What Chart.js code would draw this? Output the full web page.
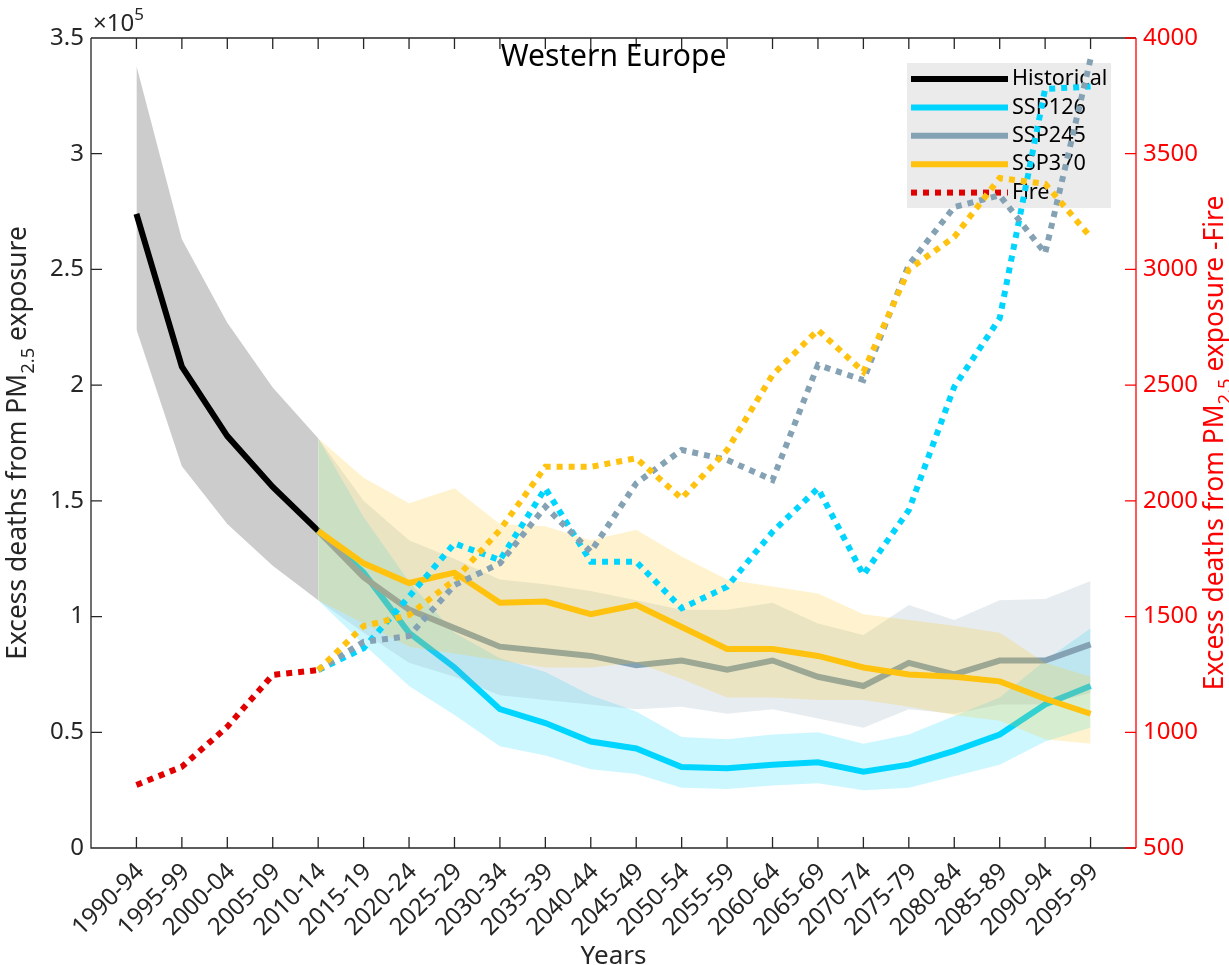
<!DOCTYPE html>
<html>
<head>
<meta charset="utf-8">
<script src="https://cdn.jsdelivr.net/npm/chart.js@4.4.1/dist/chart.umd.min.js"></script>
<style>
  html, body { margin: 0; padding: 0; background: #fff; }
  #wrap { width: 1229px; height: 965px; }
</style>
</head>
<body>
<div id="wrap"><canvas id="myChart" width="1229" height="965"></canvas></div>
<script>
// five-year periods on the x axis
const periods = ['1990-94', '1995-99', '2000-04', '2005-09', '2010-14', '2015-19', '2020-24', '2025-29',
  '2030-34', '2035-39', '2040-44', '2045-49', '2050-54', '2055-59', '2060-64', '2065-69', '2070-74',
  '2075-79', '2080-84', '2085-89', '2090-94', '2095-99'];

// left axis, excess deaths in units of 1e5 (historical: 1990-94 .. 2010-14)
const historical = [2.74, 2.08, 1.78, 1.56, 1.37];
const histUpper = [3.38, 2.63, 2.27, 1.99, 1.77];
const histLower = [2.24, 1.65, 1.40, 1.22, 1.07];

// projections start at 2010-14
const projStart = 4;
const ssp126 = [1.37, 1.19, 0.93, 0.78, 0.60, 0.54, 0.46, 0.43, 0.35, 0.345, 0.36, 0.37, 0.33, 0.36, 0.42, 0.49, 0.62, 0.70];
const ssp126Upper = [1.77, 1.43, 1.15, 0.93, 0.82, 0.76, 0.66, 0.59, 0.48, 0.47, 0.49, 0.50, 0.45, 0.49, 0.57, 0.65, 0.81, 0.95];
const ssp126Lower = [1.07, 0.88, 0.70, 0.575, 0.44, 0.40, 0.34, 0.32, 0.26, 0.255, 0.27, 0.28, 0.25, 0.26, 0.31, 0.36, 0.46, 0.52];

const ssp245 = [1.37, 1.17, 1.03, 0.95, 0.87, 0.85, 0.83, 0.79, 0.81, 0.77, 0.81, 0.74, 0.70, 0.80, 0.75, 0.81, 0.81, 0.88];
const ssp245Upper = [1.77, 1.50, 1.33, 1.25, 1.16, 1.14, 1.11, 1.07, 1.03, 1.03, 1.06, 0.97, 0.92, 1.05, 0.985, 1.07, 1.076, 1.154];
const ssp245Lower = [1.07, 0.93, 0.80, 0.74, 0.66, 0.64, 0.62, 0.60, 0.61, 0.58, 0.60, 0.56, 0.52, 0.60, 0.58, 0.62, 0.62, 0.67];

const ssp370 = [1.37, 1.23, 1.145, 1.19, 1.06, 1.065, 1.01, 1.05, 0.955, 0.86, 0.86, 0.83, 0.78, 0.75, 0.74, 0.72, 0.645, 0.58];
const ssp370Upper = [1.77, 1.60, 1.49, 1.555, 1.40, 1.39, 1.33, 1.375, 1.26, 1.16, 1.13, 1.10, 1.01, 0.985, 0.96, 0.93, 0.80, 0.74];
const ssp370Lower = [1.07, 0.97, 0.87, 0.84, 0.81, 0.78, 0.78, 0.80, 0.73, 0.65, 0.65, 0.64, 0.64, 0.61, 0.575, 0.55, 0.47, 0.45];

// right axis, fire-related excess deaths
const fireHist = [772, 851, 1024, 1248, 1269];
const fire126 = [1269, 1363, 1586, 1816, 1744, 2054, 1737, 1737, 1536, 1629, 1866, 2054, 1680, 1960, 2493, 2789, 3780, 3790];
const fire245 = [1269, 1391, 1416, 1636, 1730, 1975, 1780, 2076, 2220, 2177, 2090, 2587, 2522, 3020, 3270, 3320, 3070, 3910];
const fire370 = [1269, 1459, 1507, 1658, 1874, 2147, 2147, 2184, 2011, 2220, 2544, 2738, 2558, 3000, 3140, 3395, 3370, 3140];

const FONT = '"Noto Sans", "Open Sans", sans-serif';
const INK = '#262626';
const BLACK = '#000000';
const CYAN = '#00d5ff';
const GREY = '#84a2b4';
const YELLOW = '#ffc20e';
const RED = '#e00000';

function pts(values, start) {
  return values.map((v, i) => ({ x: start + i + 1, y: v }));
}
function alpha(hex, a) {
  const n = parseInt(hex.slice(1), 16);
  return `rgba(${n >> 16}, ${(n >> 8) & 255}, ${n & 255}, ${a})`;
}

// pushed bottom to top, order fixed below
const datasets = [];
function band(lo, hi, start, color) {
  datasets.push({ data: pts(lo, start), borderWidth: 0, borderColor: 'rgba(0,0,0,0)', fill: false, yAxisID: 'y' });
  datasets.push({ data: pts(hi, start), borderWidth: 0, borderColor: 'rgba(0,0,0,0)', fill: '-1',
    backgroundColor: alpha(color, 0.2), yAxisID: 'y' });
}
function line(values, start, color, axis, dotted) {
  datasets.push({ data: pts(values, start), borderColor: color, borderWidth: 6, fill: false, yAxisID: axis,
    borderDash: dotted ? [6, 6] : [], borderCapStyle: 'butt', borderJoinStyle: 'miter' });
}

band(histLower, histUpper, 0, BLACK);
line(historical, 0, BLACK, 'y');
band(ssp126Lower, ssp126Upper, projStart, CYAN);
line(ssp126, projStart, CYAN, 'y');
band(ssp245Lower, ssp245Upper, projStart, GREY);
line(ssp245, projStart, GREY, 'y');
band(ssp370Lower, ssp370Upper, projStart, YELLOW);
line(ssp370, projStart, YELLOW, 'y');
line(fireHist, 0, RED, 'y2', true);
line(fire126, projStart, CYAN, 'y2', true);
line(fire245, projStart, GREY, 'y2', true);
line(fire370, projStart, YELLOW, 'y2', true);
datasets.forEach((d, k) => { d.order = datasets.length - k; });

const legendItems = [
  { label: 'Historical', color: BLACK },
  { label: 'SSP126', color: CYAN },
  { label: 'SSP245', color: GREY },
  { label: 'SSP370', color: YELLOW },
  { label: 'Fire', color: RED, dotted: true }
];

function vlabel(ctx, x, y, parts, size, color) {
  ctx.save();
  ctx.translate(x, y);
  ctx.rotate(-Math.PI / 2);
  ctx.fillStyle = color;
  ctx.textAlign = 'left';
  ctx.textBaseline = 'alphabetic';
  const widths = parts.map(p => {
    ctx.font = `${p.sub ? size * 0.7 : size}px ${FONT}`;
    return ctx.measureText(p.t).width;
  });
  let cx = -widths.reduce((s, w) => s + w, 0) / 2;
  parts.forEach((p, i) => {
    ctx.font = `${p.sub ? size * 0.7 : size}px ${FONT}`;
    ctx.fillText(p.t, cx, p.sub ? size * 0.3 : 0);
    cx += widths[i];
  });
  ctx.restore();
}

const decor = {
  id: 'decor',
  beforeDatasetsDraw(chart) {
    const { ctx, chartArea: a } = chart;
    const bx = a.right - 229, by = a.top + 25;
    ctx.save();
    ctx.fillStyle = '#ebebeb';
    ctx.fillRect(bx, by, 204, 145);
    legendItems.forEach((it, k) => {
      const y = by + 16 + k * 28.4;
      ctx.strokeStyle = it.color;
      ctx.lineWidth = 6;
      ctx.setLineDash(it.dotted ? [6, 6] : []);
      ctx.beginPath();
      ctx.moveTo(bx + 4, y);
      ctx.lineTo(bx + 101, y);
      ctx.stroke();
      ctx.fillStyle = '#000';
      ctx.font = `21.6px ${FONT}`;
      ctx.textBaseline = 'middle';
      ctx.fillText(it.label, bx + 105, y);
    });
    ctx.restore();
  },
  afterDraw(chart) {
    const { ctx, chartArea: a, scales } = chart;
    ctx.save();
    ctx.lineWidth = 1.3;
    ctx.strokeStyle = INK;
    ctx.beginPath();
    ctx.moveTo(a.left, a.top); ctx.lineTo(a.left, a.bottom); ctx.lineTo(a.right, a.bottom);
    ctx.moveTo(a.left, a.top); ctx.lineTo(a.right, a.top);
    scales.x.ticks.forEach(t => {
      const px = scales.x.getPixelForValue(t.value);
      ctx.moveTo(px, a.bottom); ctx.lineTo(px, a.bottom - 11);
      ctx.moveTo(px, a.top); ctx.lineTo(px, a.top + 11);
    });
    scales.y.ticks.forEach(t => {
      const py = scales.y.getPixelForValue(t.value);
      ctx.moveTo(a.left, py); ctx.lineTo(a.left + 11, py);
    });
    ctx.stroke();
    ctx.strokeStyle = '#ff0000';
    ctx.beginPath();
    ctx.moveTo(a.right, a.top); ctx.lineTo(a.right, a.bottom);
    scales.y2.ticks.forEach(t => {
      const py = scales.y2.getPixelForValue(t.value);
      ctx.moveTo(a.right, py); ctx.lineTo(a.right - 11, py);
    });
    ctx.stroke();

    // rotated period labels, right end anchored under each tick
    ctx.fillStyle = INK;
    ctx.font = `24px ${FONT}`;
    ctx.textAlign = 'right';
    ctx.textBaseline = 'middle';
    scales.x.ticks.forEach(t => {
      const px = scales.x.getPixelForValue(t.value);
      ctx.save();
      ctx.translate(px + 4, a.bottom + 20);
      ctx.rotate(-Math.PI / 4);
      ctx.fillText(periods[t.value - 1], 0, 0);
      ctx.restore();
    });

    ctx.fillStyle = '#000';
    ctx.textAlign = 'center';
    ctx.textBaseline = 'middle';
    ctx.font = `30px ${FONT}`;
    ctx.fillText('Western Europe', (a.left + a.right) / 2, a.top + 19);

    ctx.fillStyle = INK;
    ctx.textBaseline = 'top';
    ctx.font = `26px ${FONT}`;
    ctx.fillText('Years', (a.left + a.right) / 2, 944);

    ctx.textAlign = 'left';
    ctx.textBaseline = 'alphabetic';
    ctx.font = `24px ${FONT}`;
    ctx.fillText('\u00d710', a.left + 2, a.top - 7);
    const w = ctx.measureText('\u00d710').width;
    ctx.font = `17px ${FONT}`;
    ctx.fillText('5', a.left + 2 + w, a.top - 18);
    ctx.restore();

    const mid = (a.top + a.bottom) / 2;
    vlabel(ctx, 26, mid, [{ t: 'Excess deaths from PM' }, { t: '2.5', sub: true }, { t: ' exposure' }], 26.4, INK);
    vlabel(ctx, 1223, mid, [{ t: 'Excess deaths from PM' }, { t: '2.5', sub: true }, { t: ' exposure -Fire' }], 26.4, '#ff0000');
  }
};

const ctx = document.getElementById('myChart').getContext('2d');
const myChart = new Chart(ctx, {
  type: 'line',
  data: { datasets: datasets },
  plugins: [decor],
  options: {
    responsive: false,
    animation: false,
    events: [],
    layout: { padding: { top: 38, left: 0, right: 0, bottom: 0 } },
    elements: { point: { radius: 0 }, line: { tension: 0 } },
    plugins: { legend: { display: false }, tooltip: { enabled: false } },
    scales: {
      x: {
        type: 'linear', min: 0, max: periods.length + 1,
        grid: { display: false, drawTicks: false }, border: { display: false },
        afterBuildTicks: s => { s.ticks = periods.map((p, i) => ({ value: i + 1 })); },
        afterFit: s => { s.height = 117; },
        ticks: { display: false }
      },
      y: {
        position: 'left', min: 0, max: 3.5,
        grid: { display: false, drawTicks: false }, border: { display: false },
        afterFit: s => { s.width = 91; },
        ticks: { stepSize: 0.5, padding: 7, color: INK, font: { family: FONT, size: 24 }, callback: v => String(v) }
      },
      y2: {
        position: 'right', min: 500, max: 4000,
        grid: { display: false, drawTicks: false }, border: { display: false },
        afterFit: s => { s.width = 93; },
        ticks: { stepSize: 500, padding: 7, color: '#ff0000', font: { family: FONT, size: 24 }, callback: v => String(v) }
      }
    }
  }
});
</script>
</body>
</html>
